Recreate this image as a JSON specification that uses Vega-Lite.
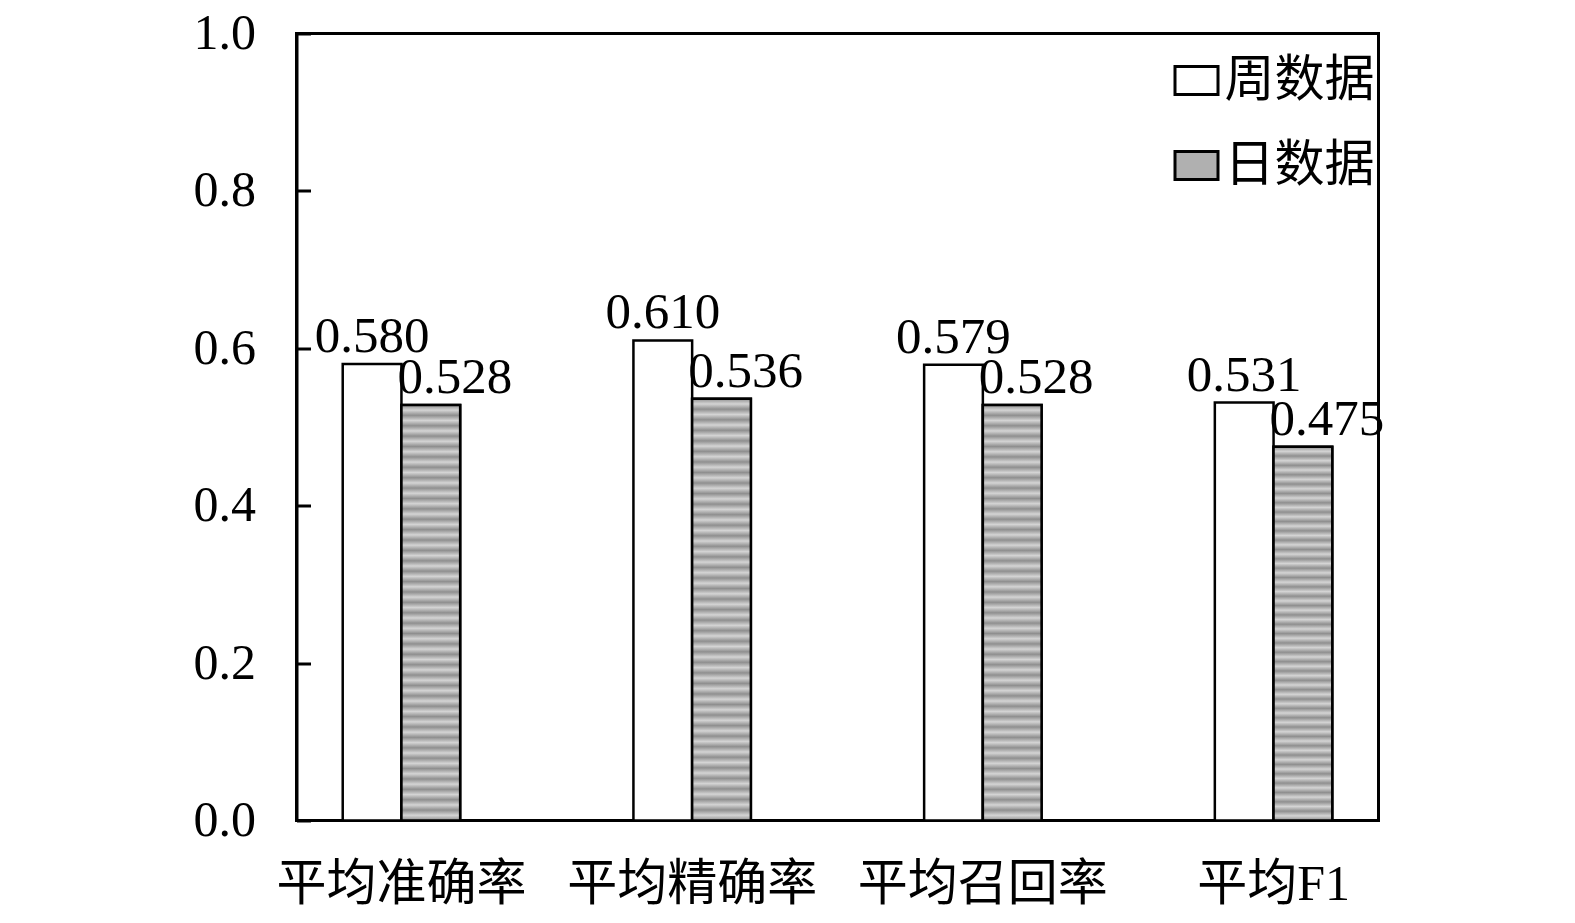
{
  "$schema": "https://vega.github.io/schema/vega-lite/v6.json",
  "width": 1082,
  "height": 787,
  "autosize": {"type": "none"},
  "padding": {"left": 296.5, "top": 33.5, "right": 196.5, "bottom": 102.5},
  "background": "white",
  "data": {
    "values": [
      {"metric": "平均准确率", "series": "周数据", "value": 0.580},
      {"metric": "平均准确率", "series": "日数据", "value": 0.528},
      {"metric": "平均精确率", "series": "周数据", "value": 0.610},
      {"metric": "平均精确率", "series": "日数据", "value": 0.536},
      {"metric": "平均召回率", "series": "周数据", "value": 0.579},
      {"metric": "平均召回率", "series": "日数据", "value": 0.528},
      {"metric": "平均F1", "series": "周数据", "value": 0.531},
      {"metric": "平均F1", "series": "日数据", "value": 0.475}
    ]
  },
  "encoding": {
    "x": {
      "field": "metric",
      "type": "nominal",
      "sort": ["平均准确率", "平均精确率", "平均召回率", "平均F1"],
      "scale": {"paddingInner": 0.596, "paddingOuter": 0.159},
      "axis": {
        "title": null,
        "labelAngle": 0,
        "ticks": false,
        "domain": false,
        "labelFont": "Liberation Serif, Noto Sans CJK SC",
        "labelFontSize": 50,
        "labelColor": "black",
        "labelBaseline": "top",
        "labelPadding": 39,
        "labelLimit": 500
      }
    },
    "xOffset": {
      "field": "series",
      "type": "nominal",
      "sort": ["周数据", "日数据"],
      "scale": {"paddingInner": 0, "paddingOuter": 0}
    },
    "y": {
      "field": "value",
      "type": "quantitative",
      "scale": {"domain": [0, 1]},
      "axis": {
        "title": null,
        "grid": false,
        "values": [0, 0.2, 0.4, 0.6, 0.8, 1.0],
        "format": ".1f",
        "labelFont": "Liberation Serif",
        "labelFontSize": 50,
        "labelColor": "black",
        "labelPadding": 55,
        "domainColor": "black",
        "domainWidth": 3,
        "tickColor": "black",
        "tickWidth": 3,
        "tickSize": -14
      }
    }
  },
  "layer": [
    {
      "mark": {"type": "bar", "stroke": "black", "strokeWidth": 2.5},
      "encoding": {
        "fill": {
          "field": "series",
          "type": "nominal",
          "scale": {"domain": ["周数据", "日数据"], "range": ["white", "#b0b0b0"]},
          "legend": {
            "title": null,
            "orient": "none",
            "legendX": 875,
            "legendY": 22,
            "padding": 0,
            "symbolType": "M-1,-0.65H1V0.65H-1Z",
            "symbolSize": 1849,
            "symbolStrokeColor": "black",
            "symbolStrokeWidth": 3,
            "symbolOpacity": 1,
            "labelFont": "Liberation Serif, Noto Sans CJK SC",
            "labelFontSize": 50,
            "labelColor": "black",
            "labelOffset": 3,
            "labelLimit": 400,
            "rowPadding": 35
          }
        }
      }
    },
    {
      "transform": [{"filter": "datum.series === '日数据'"}],
      "mark": {
        "type": "bar",
        "stroke": "black",
        "strokeWidth": 2.5,
        "fill": {
          "gradient": "linear",
          "x1": 0, "y1": 0, "x2": 0, "y2": 1,
          "stops": [
            {"offset": 0, "color": "#8f8f8f"}, {"offset": 0.0125, "color": "#d4d4d4"},
            {"offset": 0.025, "color": "#8f8f8f"}, {"offset": 0.0375, "color": "#d4d4d4"},
            {"offset": 0.05, "color": "#8f8f8f"}, {"offset": 0.0625, "color": "#d4d4d4"},
            {"offset": 0.075, "color": "#8f8f8f"}, {"offset": 0.0875, "color": "#d4d4d4"},
            {"offset": 0.1, "color": "#8f8f8f"}, {"offset": 0.1125, "color": "#d4d4d4"},
            {"offset": 0.125, "color": "#8f8f8f"}, {"offset": 0.1375, "color": "#d4d4d4"},
            {"offset": 0.15, "color": "#8f8f8f"}, {"offset": 0.1625, "color": "#d4d4d4"},
            {"offset": 0.175, "color": "#8f8f8f"}, {"offset": 0.1875, "color": "#d4d4d4"},
            {"offset": 0.2, "color": "#8f8f8f"}, {"offset": 0.2125, "color": "#d4d4d4"},
            {"offset": 0.225, "color": "#8f8f8f"}, {"offset": 0.2375, "color": "#d4d4d4"},
            {"offset": 0.25, "color": "#8f8f8f"}, {"offset": 0.2625, "color": "#d4d4d4"},
            {"offset": 0.275, "color": "#8f8f8f"}, {"offset": 0.2875, "color": "#d4d4d4"},
            {"offset": 0.3, "color": "#8f8f8f"}, {"offset": 0.3125, "color": "#d4d4d4"},
            {"offset": 0.325, "color": "#8f8f8f"}, {"offset": 0.3375, "color": "#d4d4d4"},
            {"offset": 0.35, "color": "#8f8f8f"}, {"offset": 0.3625, "color": "#d4d4d4"},
            {"offset": 0.375, "color": "#8f8f8f"}, {"offset": 0.3875, "color": "#d4d4d4"},
            {"offset": 0.4, "color": "#8f8f8f"}, {"offset": 0.4125, "color": "#d4d4d4"},
            {"offset": 0.425, "color": "#8f8f8f"}, {"offset": 0.4375, "color": "#d4d4d4"},
            {"offset": 0.45, "color": "#8f8f8f"}, {"offset": 0.4625, "color": "#d4d4d4"},
            {"offset": 0.475, "color": "#8f8f8f"}, {"offset": 0.4875, "color": "#d4d4d4"},
            {"offset": 0.5, "color": "#8f8f8f"}, {"offset": 0.5125, "color": "#d4d4d4"},
            {"offset": 0.525, "color": "#8f8f8f"}, {"offset": 0.5375, "color": "#d4d4d4"},
            {"offset": 0.55, "color": "#8f8f8f"}, {"offset": 0.5625, "color": "#d4d4d4"},
            {"offset": 0.575, "color": "#8f8f8f"}, {"offset": 0.5875, "color": "#d4d4d4"},
            {"offset": 0.6, "color": "#8f8f8f"}, {"offset": 0.6125, "color": "#d4d4d4"},
            {"offset": 0.625, "color": "#8f8f8f"}, {"offset": 0.6375, "color": "#d4d4d4"},
            {"offset": 0.65, "color": "#8f8f8f"}, {"offset": 0.6625, "color": "#d4d4d4"},
            {"offset": 0.675, "color": "#8f8f8f"}, {"offset": 0.6875, "color": "#d4d4d4"},
            {"offset": 0.7, "color": "#8f8f8f"}, {"offset": 0.7125, "color": "#d4d4d4"},
            {"offset": 0.725, "color": "#8f8f8f"}, {"offset": 0.7375, "color": "#d4d4d4"},
            {"offset": 0.75, "color": "#8f8f8f"}, {"offset": 0.7625, "color": "#d4d4d4"},
            {"offset": 0.775, "color": "#8f8f8f"}, {"offset": 0.7875, "color": "#d4d4d4"},
            {"offset": 0.8, "color": "#8f8f8f"}, {"offset": 0.8125, "color": "#d4d4d4"},
            {"offset": 0.825, "color": "#8f8f8f"}, {"offset": 0.8375, "color": "#d4d4d4"},
            {"offset": 0.85, "color": "#8f8f8f"}, {"offset": 0.8625, "color": "#d4d4d4"},
            {"offset": 0.875, "color": "#8f8f8f"}, {"offset": 0.8875, "color": "#d4d4d4"},
            {"offset": 0.9, "color": "#8f8f8f"}, {"offset": 0.9125, "color": "#d4d4d4"},
            {"offset": 0.925, "color": "#8f8f8f"}, {"offset": 0.9375, "color": "#d4d4d4"},
            {"offset": 0.95, "color": "#8f8f8f"}, {"offset": 0.9625, "color": "#d4d4d4"},
            {"offset": 0.975, "color": "#8f8f8f"}, {"offset": 0.9875, "color": "#d4d4d4"},
            {"offset": 1, "color": "#8f8f8f"}
          ]
        }
      }
    },
    {
      "transform": [{"filter": "datum.series === '周数据'"}],
      "mark": {
        "type": "text",
        "baseline": "alphabetic",
        "dy": -12,
        "dx": 0,
        "font": "Liberation Serif",
        "fontSize": 51,
        "color": "black"
      },
      "encoding": {"text": {"field": "value", "type": "quantitative", "format": ".3f"}}
    },
    {
      "transform": [{"filter": "datum.series === '日数据'"}],
      "mark": {
        "type": "text",
        "baseline": "alphabetic",
        "dy": -12,
        "dx": 24,
        "font": "Liberation Serif",
        "fontSize": 51,
        "color": "black"
      },
      "encoding": {"text": {"field": "value", "type": "quantitative", "format": ".3f"}}
    }
  ],
  "config": {
    "view": {"stroke": "black", "strokeWidth": 3}
  }
}
